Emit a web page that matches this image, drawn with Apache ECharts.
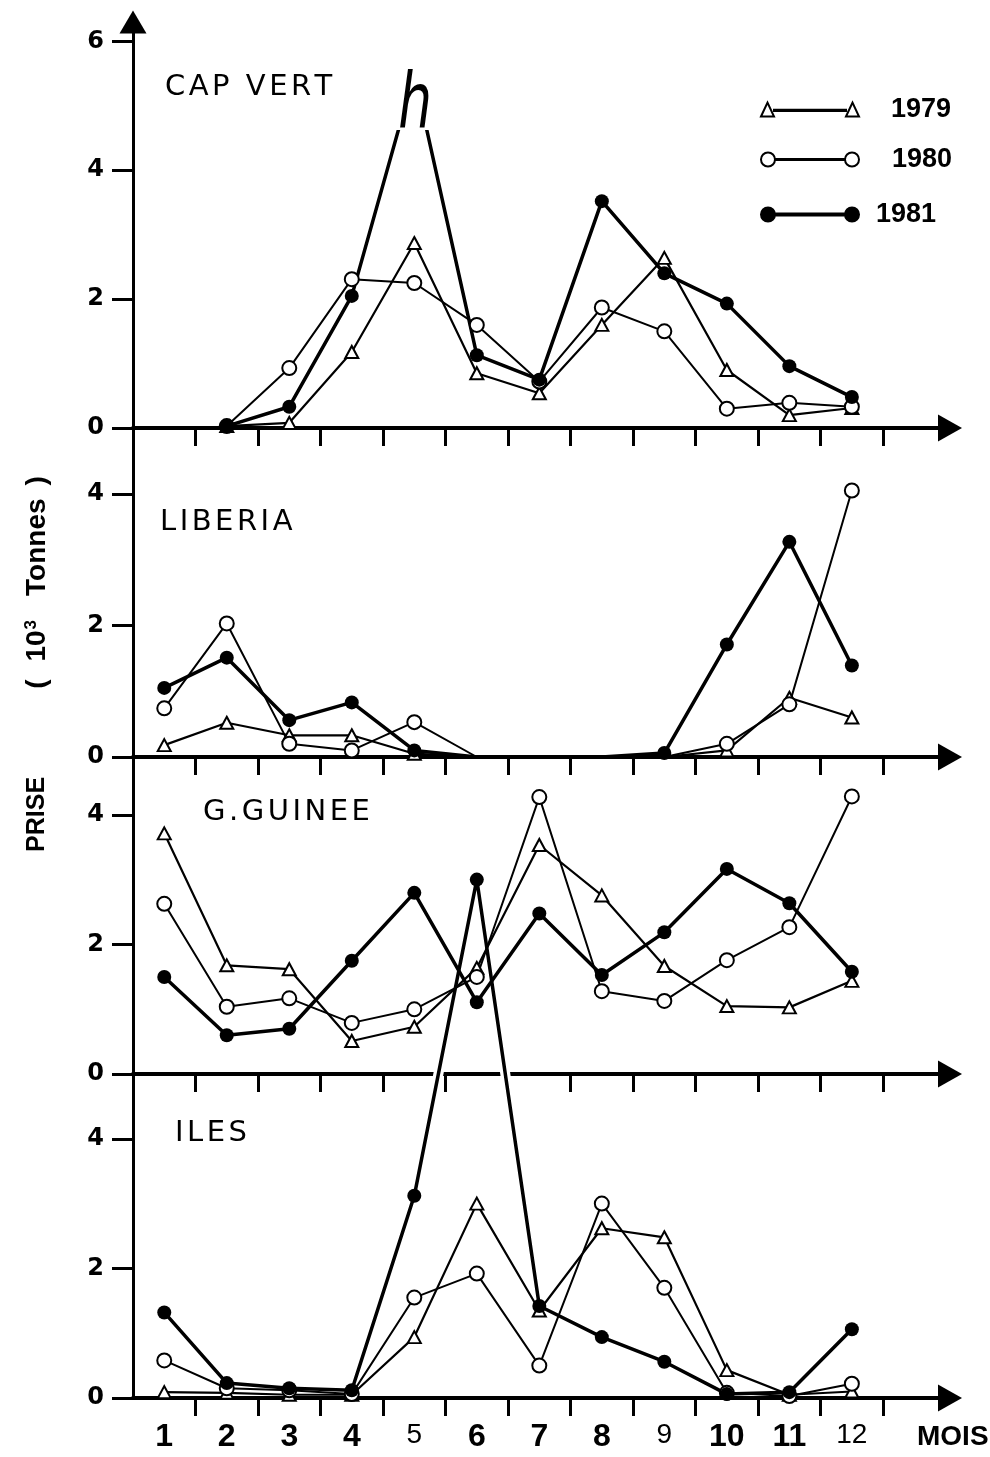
<!DOCTYPE html>
<html>
<head>
<meta charset="utf-8">
<script src="https://cdn.jsdelivr.net/npm/echarts@6/dist/echarts.min.js"></script>
<style>
  html, body { margin: 0; padding: 0; background: #fff; }
  #chart { width: 990px; height: 1457px; }
</style>
</head>
<body>
<div id="chart"></div>
<script>
// Monthly catches (10^3 tonnes) by fishing zone, 1979-1981
const months = [1, 2, 3, 4, 5, 6, 7, 8, 9, 10, 11, 12];
const monthLabels = ['1', '2', '3', '4', '5', '6', '7', '8', '9', '10', '11', '12'];
const years = ['1979', '1980', '1981'];
const regionNames = ['CAP VERT', 'LIBERIA', 'G.GUINEE', 'ILES'];

const capVert1979 = [null, 0.03, 0.08, 1.18, 2.87, 0.85, 0.54, 1.60, 2.64, 0.90, 0.20, 0.31];
const capVert1980 = [null, 0.03, 0.93, 2.31, 2.25, 1.60, 0.72, 1.87, 1.50, 0.30, 0.39, 0.33];
const capVert1981 = [null, 0.03, 0.33, 2.05, 5.50, 1.13, 0.75, 3.52, 2.40, 1.93, 0.96, 0.48];

const liberia1979 = [0.18, 0.52, 0.33, 0.33, 0.05, 0, 0, 0, 0, 0.10, 0.90, 0.60];
const liberia1980 = [0.74, 2.03, 0.20, 0.10, 0.53, 0, 0, 0, 0, 0.20, 0.80, 4.05];
const liberia1981 = [1.05, 1.51, 0.56, 0.83, 0.10, 0, 0, 0, 0.06, 1.71, 3.27, 1.39];

const guinee1979 = [3.72, 1.68, 1.62, 0.51, 0.73, 1.64, 3.54, 2.76, 1.67, 1.05, 1.03, 1.44];
const guinee1980 = [2.63, 1.04, 1.17, 0.79, 1.00, 1.50, 4.28, 1.28, 1.13, 1.76, 2.27, 4.29];
const guinee1981 = [1.50, 0.60, 0.70, 1.75, 2.80, 1.11, 2.48, 1.53, 2.19, 3.17, 2.64, 1.58];

const iles1979 = [0.09, 0.08, 0.05, 0.05, 0.94, 3.00, 1.35, 2.62, 2.48, 0.43, 0.05, 0.10];
const iles1980 = [0.58, 0.15, 0.12, 0.06, 1.55, 1.92, 0.50, 3.00, 1.70, 0.08, 0.03, 0.22];
const iles1981 = [1.32, 0.23, 0.15, 0.12, 3.12, 8.00, 1.42, 0.94, 0.56, 0.06, 0.09, 1.06];

const yTicksCapVert = [0, 2, 4, 6];
const yTicksOther = [0, 2, 4];

// ---- layout ----
const LEFT = 133;
const PLOT_W = 817;
const panelTop = [22, 428, 757, 1074];
const panelBottom = [428, 757, 1074, 1398];
const yMax = [6.3, 5, 4.9, 5];
const xMin = 0.5, xMax = 13.57;
const narrowLabels = ['5', '9', '12'];
const CUT_LEVEL = 4.63;          // the Cap Vert 1981 peak is drawn broken above this level

const panelData = [
  [capVert1979, capVert1980, capVert1981],
  [liberia1979, liberia1980, liberia1981],
  [guinee1979, guinee1980, guinee1981],
  [iles1979, iles1980, iles1981]
];
const panelTicks = [yTicksCapVert, yTicksOther, yTicksOther, yTicksOther];
const bandEdges = months.map(m => m + 0.5);   // ticks sit between the months

const yearStyle = {
  '1979': { symbol: 'triangle', symbolSize: [13, 12],
            itemStyle: { color: '#fff', borderColor: '#000', borderWidth: 2 },
            lineStyle: { color: '#000', width: 2.2 } },
  '1980': { symbol: 'circle', symbolSize: 14,
            itemStyle: { color: '#fff', borderColor: '#000', borderWidth: 2 },
            lineStyle: { color: '#000', width: 2 } },
  '1981': { symbol: 'circle', symbolSize: 14,
            itemStyle: { color: '#000', borderWidth: 0 },
            lineStyle: { color: '#000', width: 3.5 } }
};

function toPoints(values) {
  const pts = [];
  months.forEach((m, i) => {
    const v = values[i];
    if (v == null) return;
    pts.push(v === 0 ? { value: [m, v], symbol: 'none' } : [m, v]);
  });
  return pts;
}

// letter-spaced lettering for the zone names
function spaced(text) {
  return text.split('').map(ch => '{l|' + (ch === ' ' ? '\u00a0' : ch) + '}').join('');
}

const grids = panelTop.map((t, i) => ({
  left: LEFT, top: t, width: PLOT_W, height: panelBottom[i] - t,
  containLabel: false, outerBoundsMode: 'none'
}));

const xAxes = panelTop.map((t, i) => ({
  type: 'value', gridIndex: i, min: xMin, max: xMax, position: 'bottom',
  axisLine: { show: true, onZero: false, symbol: ['none', 'triangle'], symbolSize: [27, 24],
              lineStyle: { color: '#000', width: 4 } },
  axisTick: { show: true, customValues: bandEdges, length: 18, inside: false,
              lineStyle: { color: '#000', width: 3 } },
  axisLabel: i === 3 ? {
    show: true, customValues: months, margin: 23,
    fontFamily: 'Liberation Sans', fontWeight: 'bold', fontSize: 32, color: '#000',
    formatter: v => {
      const lab = monthLabels[months.indexOf(v)];
      return narrowLabels.includes(lab) ? '{n|' + lab + '}' : lab;
    },
    rich: { n: { fontFamily: 'Liberation Sans', fontWeight: 'normal', fontSize: 28, color: '#000' } }
  } : { show: false },
  splitLine: { show: false },
  name: i === 3 ? 'MOIS' : '',
  nameLocation: 'end', nameGap: -33,
  nameTextStyle: { fontFamily: 'Liberation Sans', fontWeight: 'bold',
                   fontSize: 28, color: '#000', align: 'left', verticalAlign: 'top',
                   padding: [25, 0, 0, 0] }
}));

const yAxes = panelTop.map((t, i) => ({
  type: 'value', gridIndex: i, min: 0, max: yMax[i],
  axisLine: { show: true, onZero: false,
              symbol: i === 0 ? ['none', 'triangle'] : 'none', symbolSize: [27, 23],
              lineStyle: { color: '#000', width: 3 } },
  axisTick: { show: true, customValues: panelTicks[i], length: 21, inside: false,
              lineStyle: { color: '#000', width: 3 } },
  axisLabel: { show: true, customValues: panelTicks[i], margin: 29,
               fontFamily: 'DejaVu Sans', fontWeight: 'bold', fontSize: 24, color: '#000' },
  splitLine: { show: false }
}));

const series = [];
let capVert1981Index = -1;
panelData.forEach((rows, p) => {
  rows.forEach((values, k) => {
    const year = years[k];
    const st = yearStyle[year];
    const s = {
      type: 'line', name: year, xAxisIndex: p, yAxisIndex: p,
      data: toPoints(values),
      symbol: st.symbol, symbolSize: st.symbolSize, showSymbol: true, showAllSymbol: true,
      itemStyle: Object.assign({}, st.itemStyle),
      lineStyle: Object.assign({}, st.lineStyle),
      z: 2, silent: true, clip: false, animation: false,
      emphasis: { disabled: true }
    };
    if (p === 0 && year === '1981') {
      // colour comes from the visualMap so the peak can be broken off
      delete s.itemStyle.color;
      delete s.lineStyle.color;
      capVert1981Index = series.length;
    }
    series.push(s);
  });
});

// white underlay that opens the G.Guinée axis where the Iles 1981 peak crosses it
series.push({
  type: 'line', name: 'iles-1981-underlay', xAxisIndex: 3, yAxisIndex: 3,
  data: toPoints(iles1981).slice(4, 7),
  symbol: 'none', lineStyle: { color: '#fff', width: 10 },
  z: 1, silent: true, clip: false, animation: false, emphasis: { disabled: true }
});

const triIcon = 'path://M0,14L6.5,0L13,14ZM13,7.2L85,7.2L85,8.6L13,8.6ZM85,14L91.5,0L98,14Z';
const openIcon = 'path://M0,7A7,7,0,1,1,14,7A7,7,0,1,1,0,7ZM14,6.4L84,6.4L84,7.6L14,7.6ZM84,7A7,7,0,1,1,98,7A7,7,0,1,1,84,7Z';
const fullIcon = 'path://M0,7A7,7,0,1,1,14,7A7,7,0,1,1,0,7ZM14,6L84,6L84,8L14,8ZM84,7A7,7,0,1,1,98,7A7,7,0,1,1,84,7Z';

function legendFor(year, icon, fill, top, gap) {
  return {
    show: true, selectedMode: false, left: 760, top: top, padding: 0,
    itemWidth: 98, itemHeight: 14, orient: 'vertical',
    data: [{ name: year, icon: icon,
             itemStyle: { color: fill, borderColor: '#000', borderWidth: 2 } }],
    textStyle: { fontFamily: 'Liberation Sans', fontWeight: 'bold', fontSize: 27, color: '#000',
                 padding: [0, 0, 0, gap] }
  };
}

const titleStyle = {
  fontFamily: 'DejaVu Sans', fontWeight: 'normal', fontSize: 29, color: '#000',
  rich: { l: { fontFamily: 'DejaVu Sans', fontSize: 29, color: '#000', padding: [0, 3.5, 0, 0] } }
};

const option = {
  backgroundColor: '#fff',
  animation: false,
  grid: grids,
  xAxis: xAxes,
  yAxis: yAxes,
  series: series,
  legend: [
    legendFor('1979', triIcon, '#fff', 96, 27),
    legendFor('1980', openIcon, '#fff', 146, 28),
    legendFor('1981', fullIcon, '#000', 201, 12)
  ],
  visualMap: [{
    type: 'piecewise', show: false, seriesIndex: capVert1981Index, dimension: 1,
    pieces: [
      { min: -1, max: CUT_LEVEL, color: '#000' },
      { min: CUT_LEVEL, max: 20, color: 'rgba(0,0,0,0)' }
    ],
    outOfRange: { color: '#000' }
  }],
  title: [
    { text: spaced(regionNames[0]), left: 165, top: 73, padding: 0, textStyle: titleStyle },
    { text: spaced(regionNames[1]), left: 160, top: 508, padding: 0, textStyle: titleStyle },
    { text: spaced(regionNames[2]), left: 203, top: 798, padding: 0, textStyle: titleStyle },
    { text: spaced(regionNames[3]), left: 175, top: 1119, padding: 0, textStyle: titleStyle }
  ],
  graphic: [
    {
      type: 'text', x: 37, y: 664, rotation: Math.PI / 2, silent: true,
      style: {
        text: '{p|PRISE}{b|(}{n|10}{s|3}{t|Tonnes}{c|)}',
        align: 'center', verticalAlign: 'middle', fill: '#000',
        rich: {
          p: { fontFamily: 'Liberation Sans', fontWeight: 'bold', fontSize: 25, padding: [0, 88, 0, 0] },
          b: { fontFamily: 'Liberation Sans', fontWeight: 'bold', fontSize: 28, padding: [0, 18, 0, 0] },
          n: { fontFamily: 'Liberation Sans', fontWeight: 'bold', fontSize: 28 },
          s: { fontFamily: 'Liberation Sans', fontWeight: 'bold', fontSize: 17, verticalAlign: 'top', padding: [0, 24, 0, 1] },
          t: { fontFamily: 'Liberation Sans', fontWeight: 'bold', fontSize: 28, padding: [0, 13, 0, 0] },
          c: { fontFamily: 'Liberation Sans', fontWeight: 'bold', fontSize: 28 }
        }
      }
    },
    {
      type: 'text', x: 415, y: 107, scaleX: 0.7, silent: true,
      style: {
        text: 'h', fill: '#000', align: 'center', verticalAlign: 'middle',
        fontFamily: 'DejaVu Sans', fontStyle: 'italic', fontWeight: 200, fontSize: 76
      }
    }
  ]
};

const chart = echarts.init(document.getElementById('chart'), null, { renderer: 'canvas' });
chart.setOption(option);
</script>
</body>
</html>
